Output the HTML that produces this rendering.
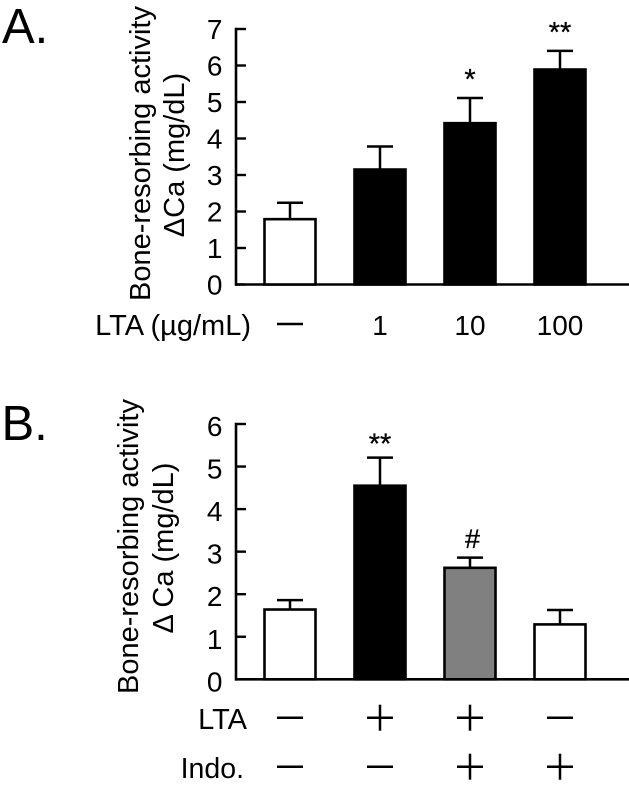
<!DOCTYPE html>
<html>
<head>
<meta charset="utf-8">
<style>
html,body{margin:0;padding:0;background:#fff;}
svg{display:block;}
text{font-family:"Liberation Sans",sans-serif;fill:#000;}
</style>
</head>
<body>
<svg id="fig" width="629" height="788" viewBox="0 0 629 788" xmlns="http://www.w3.org/2000/svg">
  <rect width="629" height="788" fill="#fff"/>
  <text x="2" y="43" font-size="49">A.</text>
  <text x="1.5" y="440" font-size="49">B.</text>

  <text transform="translate(150,153.5) rotate(-90)" text-anchor="middle" font-size="29">Bone-resorbing activity</text>
  <text transform="translate(184,155) rotate(-90)" text-anchor="middle" font-size="29">ΔCa (mg/dL)</text>
  <text transform="translate(138,546.5) rotate(-90)" text-anchor="middle" font-size="29">Bone-resorbing activity</text>
  <text transform="translate(173,548) rotate(-90)" text-anchor="middle" font-size="29">Δ Ca (mg/dL)</text>

  <text x="251" y="335" text-anchor="end" font-size="29">LTA (µg/mL)</text>
  <text x="247" y="729" text-anchor="end" font-size="29">LTA</text>
  <text x="244" y="778" text-anchor="end" font-size="28.5">Indo.</text>
  <g id="layer"></g>
</svg>
<script>
// Panel A data
const aTicks = [0, 1, 2, 3, 4, 5, 6, 7];
const aCategories = ["—", "1", "10", "100"];
const aValues = [1.79, 3.15, 4.42, 5.89];
const aErrors = [0.45, 0.63, 0.69, 0.51];
const aFills = ["#fff", "#000", "#000", "#000"];
const aMarks = ["", "", "*", "**"];

// Panel B data
const bTicks = [0, 1, 2, 3, 4, 5, 6];
const bValues = [1.64, 4.55, 2.62, 1.29];
const bErrors = [0.22, 0.66, 0.24, 0.34];
const bFills = ["#fff", "#000", "#808080", "#fff"];
const bMarks = ["", "**", "#", ""];
const bLta = ["-", "+", "+", "-"];
const bIndo = ["-", "-", "+", "+"];

const NS = "http://www.w3.org/2000/svg";
const layer = document.getElementById("layer");

function mk(tag, attrs, parent) {
  const el = document.createElementNS(NS, tag);
  for (const k in attrs) el.setAttribute(k, attrs[k]);
  (parent || layer).appendChild(el);
  return el;
}

function xPos(i) { return 290 + i * 90; }
function yA(v) { return 284.5 - v * 36.5; }
function yB(v) { return 679.3 - v * 42.55; }

function drawAxes(name, ticks, y, labelDy) {
  const max = ticks[ticks.length - 1];
  const axisY = mk("line", {x1: 236, x2: 236, y1: y(max) - 1.3, y2: y(0) + 1.3, stroke: "#000", "stroke-width": 2.6});
  
  
  const axisX = mk("line", {x1: 235, x2: 629, y1: y(0), y2: y(0), stroke: "#000", "stroke-width": 2.6});
  
  
  ticks.forEach(function (t) {
    const tick = mk("line", {x1: 236, x2: 246, y1: y(t), y2: y(t), stroke: "#000", "stroke-width": 2.4});
    
    
    const label = mk("text", {x: 222.5, y: y(t) + labelDy, "text-anchor": "end", "font-size": 28});
    
    
    label.textContent = t;
  });
}

function drawBars(name, values, errors, fills, y) {
  values.forEach(function (v, i) {
    const cx = xPos(i);
    const stem = mk("line", {x1: cx, x2: cx, y1: y(v), y2: y(v + errors[i]), stroke: "#000", "stroke-width": 2.5});
    
    
    const cap = mk("line", {x1: cx - 13, x2: cx + 13, y1: y(v + errors[i]), y2: y(v + errors[i]), stroke: "#000", "stroke-width": 2.5});
    
    
    const bar = mk("rect", {x: cx - 25.5, width: 51, y: y(v), height: y(0) - y(v), fill: fills[i], stroke: "#000", "stroke-width": 2.6});
    
    
  });
}

function drawMarks(name, marks, values, errors, y, gap) {
  marks.forEach(function (m, i) {
    if (!m) return;
    const hash = m === "#";
    const t = mk("text", {x: xPos(i) + (hash ? 2.5 : 0), y: y(values[i] + errors[i]) + (hash ? -9.5 : gap), "text-anchor": "middle", "font-size": hash ? 27 : 29, stroke: "#000", "stroke-width": 0.3});
    
    
    t.textContent = m;
  });
}

function drawSign(sign, cx, cy) {
  const dash = mk("line", {x1: cx - 13, x2: cx + 13, y1: cy, y2: cy, stroke: "#000", "stroke-width": 2.5});
  
  
  if (sign === "+") {
    const v = mk("line", {x1: cx, x2: cx, y1: cy - 13, y2: cy + 13, stroke: "#000", "stroke-width": 2.5});
    
    
  }
}

drawAxes("panel-a", aTicks, yA, 10);
drawBars("panel-a", aValues, aErrors, aFills, yA);
drawMarks("panel-a", aMarks, aValues, aErrors, yA, -9);
aCategories.forEach(function (c, i) {
  if (c === "—") {
    drawSign("-", xPos(i), 324);
    return;
  }
  const t = mk("text", {x: xPos(i), y: 335, "text-anchor": "middle", "font-size": 28});
  
  
  t.textContent = c;
});

drawAxes("panel-b", bTicks, yB, 12);
drawBars("panel-b", bValues, bErrors, bFills, yB);
drawMarks("panel-b", bMarks, bValues, bErrors, yB, -4);
bLta.forEach(function (s, i) { drawSign(s, xPos(i), 717.7); });
bIndo.forEach(function (s, i) { drawSign(s, xPos(i), 766.7); });
</script>
</body>
</html>
